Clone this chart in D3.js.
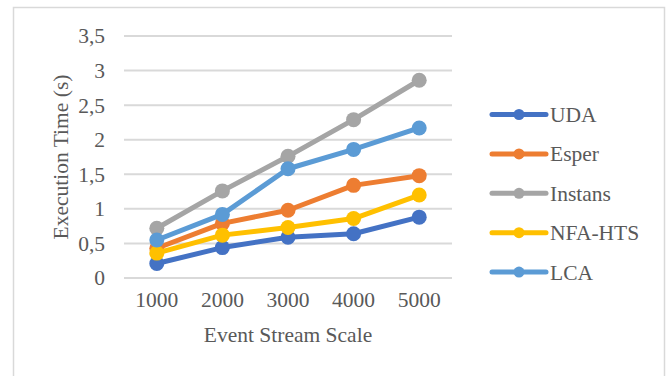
<!DOCTYPE html>
<html>
<head>
<meta charset="utf-8">
<script src="https://cdn.jsdelivr.net/npm/d3@7"></script>
<style>
  html, body { margin: 0; padding: 0; background: #fff; }
  svg { display: block; }
  text { font-family: "Liberation Serif", "Times New Roman", serif; fill: #595959; }
</style>
</head>
<body>
<svg id="chart" width="672" height="376"></svg>
<script>
// Execution time (s) per event stream scale, one array per engine
const categories = ["1000", "2000", "3000", "4000", "5000"];
const seriesNames = ["UDA", "Esper", "Instans", "NFA-HTS", "LCA"];
const uda     = [0.21, 0.44, 0.59, 0.64, 0.88];
const esper   = [0.43, 0.79, 0.98, 1.34, 1.48];
const instans = [0.72, 1.26, 1.76, 2.29, 2.86];
const nfaHts  = [0.36, 0.62, 0.73, 0.86, 1.20];
const lca     = [0.55, 0.92, 1.58, 1.86, 2.17];
const yTicks  = [0, 0.5, 1, 1.5, 2, 2.5, 3, 3.5];
const colors  = ["#4472C4", "#ED7D31", "#A5A5A5", "#FFC000", "#5B9BD5"];

const seriesValues = [uda, esper, instans, nfaHts, lca];
const series = seriesNames.map((name, i) => ({ name, values: seriesValues[i], color: colors[i] }));

const svg = d3.select("#chart");
const fontSize = 21.5;

// Chart frame
svg.append("rect")
  .attr("x", 13.5).attr("y", 7.5)
  .attr("width", 651).attr("height", 380)
  .attr("fill", "#fff")
  .attr("stroke", "#D9D9D9").attr("stroke-width", 1.5);

const plot = { left: 124, right: 452, top: 36, bottom: 278 };

const x = d3.scaleBand().domain(categories).range([plot.left, plot.right]);
const y = d3.scaleLinear().domain([0, 3.5]).range([plot.bottom, plot.top]);

// Horizontal gridlines
svg.append("g")
  .selectAll("line")
  .data(yTicks)
  .join("line")
  .attr("x1", plot.left).attr("x2", plot.right)
  .attr("y1", d => y(d)).attr("y2", d => y(d))
  .attr("stroke", "#D9D9D9").attr("stroke-width", 2);

// Y axis labels (decimal comma)
const yAxis = d3.axisLeft(y).tickValues(yTicks)
  .tickFormat(d => String(d).replace(".", ","))
  .tickSize(0).tickPadding(0);
const yg = svg.append("g").attr("transform", `translate(105,0)`).call(yAxis);
yg.select(".domain").remove();
yg.selectAll("text").attr("font-size", fontSize).attr("fill", "#595959")
  .style("font-family", "'Liberation Serif', serif");

// X axis labels
const xAxis = d3.axisBottom(x).tickSize(0).tickPadding(0);
const xg = svg.append("g").attr("transform", `translate(0,292)`).call(xAxis);
xg.select(".domain").remove();
xg.selectAll("text").attr("font-size", fontSize).attr("fill", "#595959")
  .style("font-family", "'Liberation Serif', serif");

// Axis titles
svg.append("text")
  .attr("x", (plot.left + plot.right) / 2).attr("y", 342)
  .attr("text-anchor", "middle").attr("font-size", fontSize)
  .text("Event Stream Scale");

svg.append("text")
  .attr("transform", `translate(68,${(plot.top + plot.bottom) / 2}) rotate(-90)`)
  .attr("text-anchor", "middle").attr("font-size", fontSize)
  .text("Execution Time (s)");

// Lines and markers
const cx = c => x(c) + x.bandwidth() / 2;
const line = d3.line().x((d, i) => cx(categories[i])).y(d => y(d));

const sg = svg.append("g").selectAll("g").data(series).join("g");
sg.append("path")
  .attr("d", d => line(d.values))
  .attr("fill", "none")
  .attr("stroke", d => d.color)
  .attr("stroke-width", 5)
  .attr("stroke-linejoin", "round")
  .attr("stroke-linecap", "round");
sg.selectAll("circle")
  .data(d => d.values.map((v, i) => ({ v, i, color: d.color })))
  .join("circle")
  .attr("cx", d => cx(categories[d.i]))
  .attr("cy", d => y(d.v))
  .attr("r", 7.5)
  .attr("fill", d => d.color);

// Legend
const legend = svg.append("g").selectAll("g").data(series).join("g")
  .attr("transform", (d, i) => `translate(0,${114.5 + i * 39.4})`);
legend.append("line")
  .attr("x1", 492).attr("x2", 546)
  .attr("stroke", d => d.color).attr("stroke-width", 5)
  .attr("stroke-linecap", "round");
legend.append("circle")
  .attr("cx", 519).attr("r", 5.5)
  .attr("fill", d => d.color);
legend.append("text")
  .attr("x", 550).attr("y", 7.5)
  .attr("font-size", fontSize)
  .text(d => d.name);
</script>
</body>
</html>
